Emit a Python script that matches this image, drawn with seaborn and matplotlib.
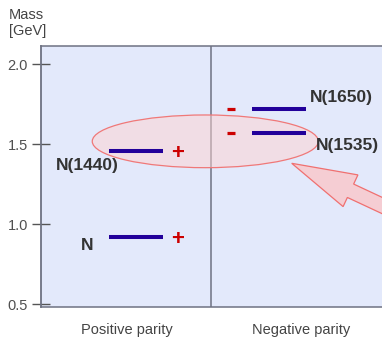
import warnings
import pandas as pd
import seaborn as sns
import matplotlib.pyplot as plt
from matplotlib.patches import Ellipse, FancyArrow

warnings.filterwarnings("ignore")
sns.set_theme(style="white")
plt.rcParams["font.family"] = ["Liberation Sans", "DejaVu Sans"]

# nucleon states: parity, name, mass in GeV
parity = ["Positive parity", "Positive parity", "Negative parity", "Negative parity"]
states = ["N", "N(1440)", "N(1535)", "N(1650)"]
mass = [0.92, 1.46, 1.57, 1.72]
signs = ["+", "+", "-", "-"]
parity_order = ["Positive parity", "Negative parity"]
mass_ticks = [0.5, 1.0, 1.5, 2.0]

df = pd.DataFrame({"parity": parity, "state": states, "mass": mass, "sign": signs})
df["pos"] = df["parity"].map({p: i for i, p in enumerate(parity_order)})

# layout: level centre offset, sign offset, label offsets (pixels)
level_shift = {0: 0.056, 1: -0.126}
sign_shift = {0: 0.293, 1: -0.401}
label_offset = {"N": (-40, -7), "N(1440)": (-39, -13),
                "N(1535)": (47, -11), "N(1650)": (40, 13)}
df["x"] = df["pos"] + df["pos"].map(level_shift)
df["sx"] = df["pos"] + df["pos"].map(sign_shift)

bg = "#E3E9FB"
spine_col = "#6E7282"

fig = plt.figure(figsize=(3.82, 3.38), dpi=100)
ax = fig.add_axes([40.7 / 382, 30.7 / 338, 347.3 / 382, 261.3 / 338])
ax.set_facecolor(bg)

# energy levels
sns.scatterplot(data=df, x="x", y="mass", marker="_", s=1460, linewidth=2.9,
                color="#22009A", edgecolor=None, legend=False, ax=ax, zorder=4)

# parity signs: minus as short thick dashes, plus as bold text
minus = df[df["sign"] == "-"]
sns.scatterplot(data=minus, x="sx", y="mass", marker="_", s=30, linewidth=2.3,
                color="#CC0000", edgecolor=None, legend=False, ax=ax, zorder=5)
for _, r in df[df["sign"] == "+"].iterrows():
    ax.text(r["sx"], r["mass"], "+", color="#CC0000", fontsize=16,
            fontweight="bold", ha="center", va="center_baseline", zorder=5)

for _, r in df.iterrows():
    dx, dy = label_offset[r["state"]]
    ax.annotate(r["state"], xy=(r["pos"], r["mass"]), xytext=(dx, dy),
                textcoords="offset pixels", ha="center", va="center_baseline",
                fontsize=12.5, fontweight="bold", color="#333333", zorder=5)

ax.axvline(0.484, color=spine_col, lw=1.1, zorder=2)

ax.add_patch(Ellipse((0.451, 1.518), 1.298, 0.329, facecolor="#FFD3D1", alpha=0.5,
                     edgecolor="none", zorder=3))
ax.add_patch(Ellipse((0.451, 1.518), 1.298, 0.329, facecolor="none",
                     edgecolor="#F07878", lw=0.9, zorder=3))

arrow = FancyArrow(4.185, 1.155, -1.268, 0.592, width=0.148, head_width=0.35,
                   head_length=0.649, length_includes_head=True,
                   transform=fig.dpi_scale_trans, facecolor="#F5CDD3",
                   edgecolor="#F07070", lw=0.9, zorder=6, clip_on=False)
fig.add_artist(arrow)

ax.set_xlim(-0.494, 1.50)
ax.set_ylim(0.482, 2.113)
ax.set_xticks(range(len(parity_order)))
ax.set_xticklabels(parity_order, fontsize=10.5, color="#444444")
ax.set_yticks(mass_ticks)
ax.set_yticklabels([f"{v:.1f}" for v in mass_ticks], fontsize=10.5, color="#505050")
ax.tick_params(axis="x", length=0, pad=11)
ax.tick_params(axis="y", left=True, direction="inout", length=12.7, width=1,
               color="#555555", pad=2.8)
ax.set_xlabel("")
ax.set_ylabel("")
for s in ax.spines.values():
    s.set_color(spine_col)
    s.set_linewidth(1.1)
ax.spines["left"].set_linewidth(1.3)

fig.text(9 / 382, 1 - 8 / 338, "Mass\n[GeV]", ha="left", va="top",
         fontsize=10.5, color="#444444")

fig.savefig("out.png", dpi=100)
